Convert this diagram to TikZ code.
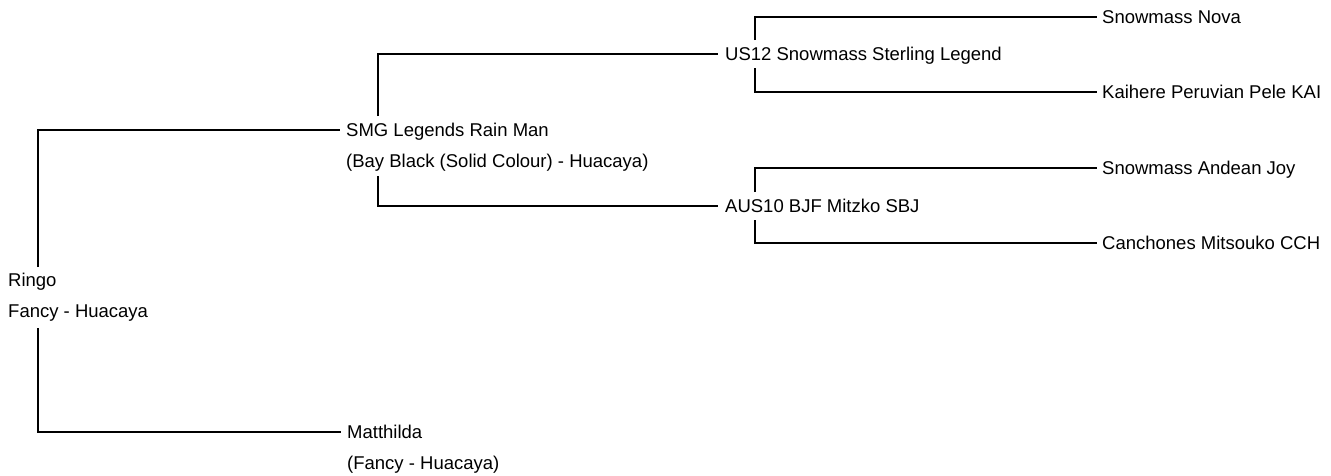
\documentclass[tikz,border=0pt]{standalone}
\usepackage{fontspec}
\setmainfont{Liberation Sans}
\begin{document}
\begin{tikzpicture}[x=1pt,y=-1pt,
  person/.style={inner sep=0pt, anchor=west, text height=13.2pt, text depth=0pt,
    font=\fontsize{18.5pt}{22pt}\selectfont, text=black},
  link/.style={draw=black, line width=1.3pt}]
\useasboundingbox (0,0) rectangle (1331,475);
% nodes
\node[person] (ringo)  at (8,280)   {Ringo};
\node[person] (ringo2) at (8,311)   {Fancy - Huacaya};
\node[person] (smg)    at (346,130) {SMG Legends Rain Man};
\node[person] (smg2)   at (346,161) {(Bay Black (Solid Colour) - Huacaya)};
\node[person] (matt)   at (347,432) {Matthilda};
\node[person] (matt2)  at (347,463) {(Fancy - Huacaya)};
\node[person] (us)     at (725,54)  {US12 Snowmass Sterling Legend};
\node[person] (aus)    at (725,206) {AUS10 BJF Mitzko SBJ};
\node[person] (nova)   at (1102,17) {Snowmass Nova};
\node[person] (kai)    at (1102,92) {Kaihere Peruvian Pele KAI};
\node[person] (joy)    at (1102,168) {Snowmass Andean Joy};
\node[person] (can)    at (1102,243) {Canchones Mitsouko CCH};
% connectors
\draw[link] ([xshift=30pt,yshift=13pt]ringo.west) |- ([xshift=-6pt]smg.west);
\draw[link] ([xshift=30pt,yshift=-17pt]ringo2.west) |- ([xshift=-6pt]matt.west);
\draw[link] ([xshift=32pt,yshift=14pt]smg.west) |- ([xshift=-7pt]us.west);
\draw[link] ([xshift=32pt,yshift=-15pt]smg2.west) |- ([xshift=-7pt]aus.west);
\draw[link] ([xshift=30pt,yshift=14pt]us.west) |- ([xshift=-5pt]nova.west);
\draw[link] ([xshift=30pt,yshift=-14pt]us.west) |- ([xshift=-5pt]kai.west);
\draw[link] ([xshift=30pt,yshift=14pt]aus.west) |- ([xshift=-5pt]joy.west);
\draw[link] ([xshift=30pt,yshift=-14pt]aus.west) |- ([xshift=-5pt]can.west);
\end{tikzpicture}
\end{document}
